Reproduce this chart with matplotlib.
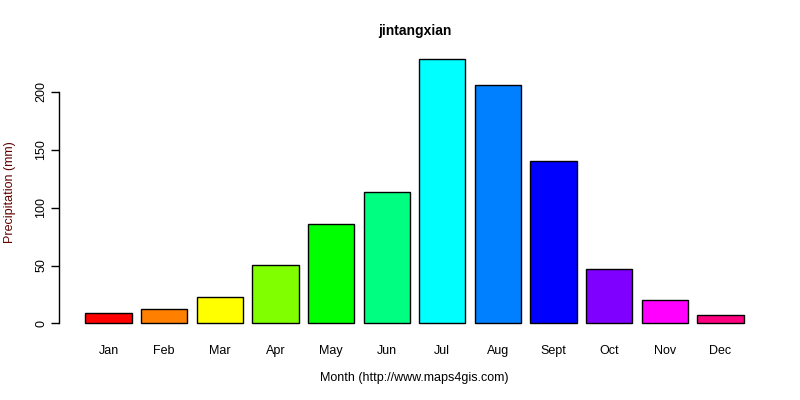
import numpy as np
import matplotlib
matplotlib.use("Agg")
import matplotlib.pyplot as plt

# monthly precipitation
months = ["Jan", "Feb", "Mar", "Apr", "May", "Jun", "Jul", "Aug", "Sept", "Oct", "Nov", "Dec"]
precip = [8.6, 12.1, 22.4, 50.6, 85.5, 113.1, 228.0, 205.5, 139.9, 46.6, 19.9, 6.9]
colors = ["#FF0000", "#FF8000", "#FFFF00", "#80FF00", "#00FF00", "#00FF80",
          "#00FFFF", "#0080FF", "#0000FF", "#8000FF", "#FF00FF", "#FF0080"]
yticks = [0, 50, 100, 150, 200]

plt.rcParams['font.family'] = ['Liberation Sans', 'DejaVu Sans']

fig = plt.figure(figsize=(8, 4), dpi=100)
ax = fig.add_axes([0.07375, 0.165, 0.88875, 0.713])

# R barplot layout: width 1, space 0.2
x = 0.2 + np.arange(len(months)) * 1.2 + 0.5
ax.bar(x, precip, width=1.0, color=colors, edgecolor='black', linewidth=1.0)

lo, hi = 0.2, 0.2 + len(months) * 1.2 - 0.2
ext = (hi - lo) * 0.04
ax.set_xlim(lo - ext, hi + ext)
ymax = max(precip)
ax.set_ylim(-ymax * 0.04, ymax * 1.04)

for s in ['top', 'right', 'bottom']:
    ax.spines[s].set_visible(False)
ax.spines['left'].set_bounds(0, 200)
ax.spines['left'].set_linewidth(1.0)

ax.set_yticks(yticks)
ax.set_yticklabels([str(v) for v in yticks], rotation=90, va='center', fontsize=9)
ax.tick_params(axis='y', length=5.5, width=1.0, pad=3)
ax.set_xticks(x)
ax.set_xticklabels(months, fontsize=9)
ax.tick_params(axis='x', length=0, pad=8)

fig.text(0.518, 0.9225, "jintangxian", ha='center', va='center', fontsize=10, fontweight='bold')
fig.text(0.518, 0.055, "Month (http://www.maps4gis.com)", ha='center', va='center', fontsize=9)
fig.text(0.0125, 0.52, "Precipitation (mm)", ha='center', va='center', rotation=90,
         fontsize=9, color='#600000')

fig.savefig("out.png", dpi=100)
